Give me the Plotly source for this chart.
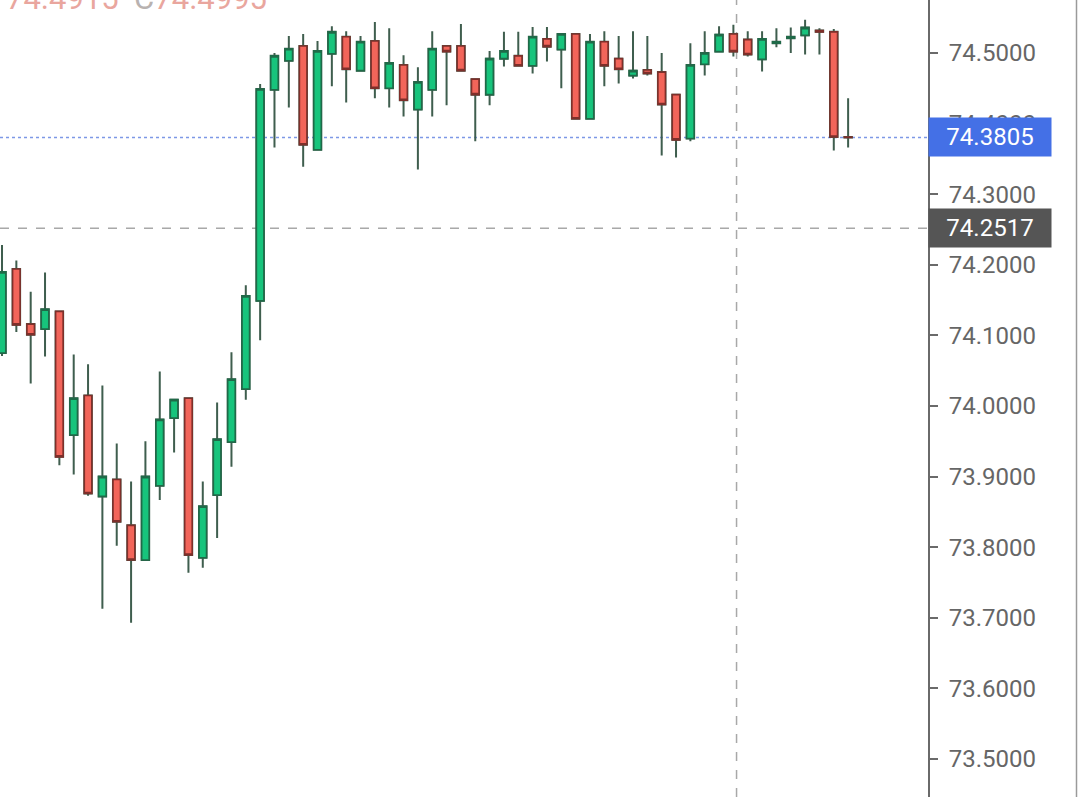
import plotly.graph_objects as go

# ---- data ----
idx = list(range(60))
opens = [74.075, 74.194, 74.116, 74.109, 74.134, 73.959, 74.015, 73.872, 73.896, 73.831,
         73.782, 73.887, 73.983, 74.011, 73.785, 73.874, 73.949, 74.024, 74.149, 74.448,
         74.489, 74.510, 74.363, 74.499, 74.523, 74.475, 74.517, 74.450, 74.483, 74.420,
         74.448, 74.510, 74.510, 74.463, 74.441, 74.492, 74.496, 74.482, 74.520, 74.505,
         74.527, 74.407, 74.516, 74.492, 74.468, 74.476, 74.473, 74.441, 74.379, 74.484,
         74.502, 74.527, 74.519, 74.491, 74.514, 74.521, 74.525, 74.532, 74.530, 74.3810]
highs = [74.228, 74.206, 74.162, 74.189, 74.135, 74.073, 74.059, 74.029, 73.947, 73.893,
         73.950, 74.049, 74.010, 74.012, 73.893, 74.005, 74.076, 74.171, 74.456, 74.500,
         74.524, 74.527, 74.517, 74.538, 74.531, 74.524, 74.544, 74.535, 74.497, 74.480,
         74.531, 74.511, 74.541, 74.464, 74.503, 74.530, 74.530, 74.537, 74.537, 74.528,
         74.528, 74.527, 74.531, 74.524, 74.531, 74.524, 74.500, 74.442, 74.514, 74.531,
         74.538, 74.540, 74.531, 74.531, 74.535, 74.536, 74.547, 74.535, 74.534, 74.436]
lows = [74.071, 74.105, 74.032, 74.070, 73.916, 73.903, 73.873, 73.713, 73.802, 73.693,
        73.781, 73.867, 73.934, 73.764, 73.771, 73.813, 73.914, 74.009, 74.093, 74.366,
        74.423, 74.339, 74.362, 74.453, 74.430, 74.474, 74.436, 74.423, 74.410, 74.335,
        74.410, 74.426, 74.474, 74.375, 74.426, 74.481, 74.481, 74.471, 74.488, 74.450,
        74.406, 74.406, 74.453, 74.457, 74.464, 74.468, 74.355, 74.352, 74.375, 74.468,
        74.501, 74.495, 74.495, 74.474, 74.508, 74.500, 74.498, 74.498, 74.362, 74.366]
closes = [74.190, 74.115, 74.101, 74.137, 73.928, 74.011, 73.876, 73.900, 73.836, 73.782,
          73.900, 73.981, 74.009, 73.789, 73.858, 73.953, 74.038, 74.156, 74.449, 74.496,
          74.506, 74.370, 74.503, 74.530, 74.477, 74.516, 74.450, 74.486, 74.433, 74.459,
          74.506, 74.502, 74.475, 74.441, 74.492, 74.503, 74.482, 74.523, 74.509, 74.527,
          74.407, 74.516, 74.482, 74.477, 74.475, 74.471, 74.427, 74.377, 74.483, 74.500,
          74.526, 74.502, 74.498, 74.520, 74.516, 74.523, 74.536, 74.530, 74.3810, 74.3805]

y_ticks = [73.5, 73.6, 73.7, 73.8, 73.9, 74.0, 74.1, 74.2, 74.3, 74.4, 74.5]
last_price = 74.3805
cross_price = 74.2517
cross_index = 51.22
header_high = "74.4915"
header_close = "74.4995"

# ---- styles ----
GREEN = "#17c47c"
RED = "#f2655a"
WICK = "#3f5e4e"
GREEN_EDGE = "#1f6a48"
RED_EDGE = "#7e2f2a"
BLUE = "#4470e6"
AXIS_GRAY = "#6a6a6a"

body_hi = [max(o, c) for o, c in zip(opens, closes)]
body_lo = [min(o, c) for o, c in zip(opens, closes)]

fig = go.Figure()
# wicks (full range)
fig.add_trace(go.Candlestick(
    x=idx, open=opens, high=highs, low=lows, close=closes,
    increasing=dict(line=dict(color=WICK, width=2), fillcolor=GREEN),
    decreasing=dict(line=dict(color=WICK, width=2), fillcolor=RED),
    showlegend=False, hoverinfo="skip"))
# bodies with coloured edges
fig.add_trace(go.Candlestick(
    x=idx, open=opens, high=body_hi, low=body_lo, close=closes,
    increasing=dict(line=dict(color=GREEN_EDGE, width=1.6), fillcolor=GREEN),
    decreasing=dict(line=dict(color=RED_EDGE, width=1.6), fillcolor=RED),
    showlegend=False, hoverinfo="skip"))

x0, x1 = -0.14, 64.57
y0, y1 = 73.4462, 74.5751

fig.update_layout(
    width=1080, height=797,
    margin=dict(l=0, r=152, t=0, b=0),
    paper_bgcolor="white", plot_bgcolor="white",
    font=dict(family="Roboto, sans-serif"),
    boxgap=0.25,
    showlegend=False,
    xaxis=dict(range=[x0, x1], visible=False, rangeslider=dict(visible=False), fixedrange=True),
    yaxis=dict(range=[y0, y1], side="right", showgrid=False, zeroline=False,
               tickmode="array", tickvals=y_ticks, ticktext=[f"{v:.4f}" for v in y_ticks],
               ticks="outside", ticklen=8, tickwidth=2, tickcolor=AXIS_GRAY,
               showline=True, linecolor=AXIS_GRAY, linewidth=2,
               tickfont=dict(size=24, color="#666666", family="Roboto"),
               ticklabelstandoff=6),
)

shapes = [
    # last-price dotted line
    dict(type="line", xref="paper", x0=0, x1=1, yref="y", y0=last_price, y1=last_price,
         line=dict(color="#7d98e6", width=1.5, dash="dot"), layer="below"),
    # crosshair horizontal
    dict(type="line", xref="paper", x0=0, x1=1, yref="y", y0=cross_price, y1=cross_price,
         line=dict(color="#a8a8a8", width=1.5, dash="dash"), layer="below"),
    # crosshair vertical
    dict(type="line", xref="x", x0=cross_index, x1=cross_index, yref="paper", y0=0, y1=1,
         line=dict(color="#a8a8a8", width=1.5, dash="dash"), layer="below"),
    # right edge line
    dict(type="line", xref="paper", x0=1076.5 / 928, x1=1076.5 / 928, yref="paper", y0=0, y1=1,
         line=dict(color="#9a9a9a", width=1.5)),
]
fig.update_layout(shapes=shapes)

annotations = [
    dict(xref="paper", x=1.0, xanchor="left", yref="y", y=last_price, yanchor="middle",
         text=f"{last_price:.4f}", showarrow=False, bgcolor=BLUE, width=122, height=38,
         borderpad=0, align="center", font=dict(size=24, color="white", family="Roboto")),
    dict(xref="paper", x=1.0, xanchor="left", yref="y", y=cross_price, yanchor="middle",
         text=f"{cross_price:.4f}", showarrow=False, bgcolor="#555555", width=122, height=38,
         borderpad=0, align="center", font=dict(size=24, color="white", family="Roboto")),
    dict(xref="paper", x=4 / 928, xanchor="left", yref="paper", y=1 + 2 / 797, yanchor="middle",
         text=(f"<span style='color:#e9a69e'>{header_high}</span>"
               f"  <span style='color:#b8b2b0'>C</span>"
               f"<span style='color:#e9a69e'>{header_close}</span>"),
         showarrow=False, font=dict(size=31, family="Roboto")),
]
fig.update_layout(annotations=annotations)

fig.write_html("out.html", config={"displayModeBar": False},
               post_script="document.body.style.margin='0px';document.body.style.overflow='hidden';")
